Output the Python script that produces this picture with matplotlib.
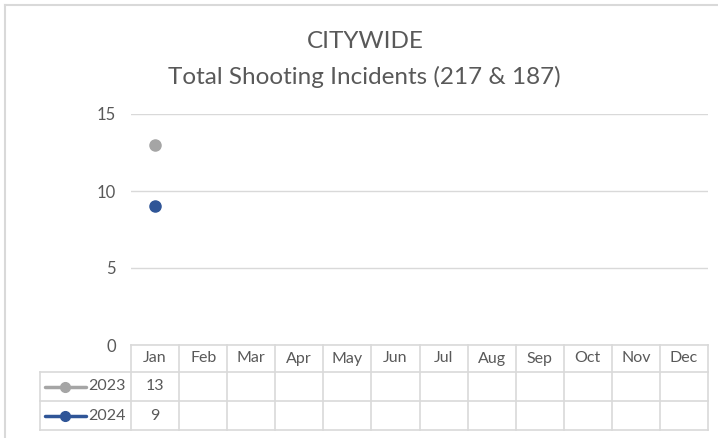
import matplotlib.pyplot as plt
from matplotlib.transforms import blended_transform_factory
from matplotlib.lines import Line2D

plt.rcParams['font.family'] = ['Lato', 'DejaVu Sans']

months = ['Jan', 'Feb', 'Mar', 'Apr', 'May', 'Jun', 'Jul', 'Aug', 'Sep', 'Oct', 'Nov', 'Dec']
years = ['2023', '2024']
vals_2023 = [13]
vals_2024 = [9]
colors = ['#a5a5a5', '#2f5597']
series = [vals_2023, vals_2024]

W, H = 718, 438
fig = plt.figure(figsize=(W / 100, H / 100), dpi=100)
grid_c = '#d9d9d9'
txt_c = '#595959'

# outer chart frame (cut off on right/bottom like the screenshot)
fig.add_artist(Line2D([5 / W, 1.01], [1 - 5 / H, 1 - 5 / H], color=grid_c, lw=1.5))
fig.add_artist(Line2D([5 / W, 5 / W], [1 - 5 / H, -0.01], color=grid_c, lw=1.5))

ax = fig.add_axes([131 / W, (H - 345) / H, (708 - 131) / W, (345 - 114) / H])
ax.set_xlim(-0.5, 11.5)
ax.set_ylim(0, 15)
ax.set_yticks([0, 5, 10, 15])
ax.set_xticks([])
ax.tick_params(axis='y', length=0, pad=11, labelsize=12, labelcolor=txt_c)
for s in ax.spines.values():
    s.set_visible(False)
ax.grid(axis='y', color=grid_c, lw=1)
ax.set_axisbelow(True)

for vals, c in zip(series, colors):
    ax.plot(range(len(vals)), vals, color=c, lw=2.25, marker='o', ms=8, zorder=3)

# two-line title, same size on both lines
fig.text(365 / W, 1 - 41 / H, 'CITYWIDE', ha='center', va='center', fontsize=17.5, color=txt_c)
fig.text(364 / W, 1 - 77 / H, 'Total Shooting Incidents (217 & 187)', ha='center', va='center',
         fontsize=17.5, color=txt_c)

# data table under the axis
tr = blended_transform_factory(ax.transData, ax.transAxes)
ph = 345 - 114
rows_y = [0, -27 / ph, -56 / ph, -85 / ph]
left = -0.5 - 91 / 48.08
kw = dict(color=grid_c, lw=1.2, transform=tr, clip_on=False)
ax.plot([-0.5, 11.5], [rows_y[0]] * 2, **kw)
for y in rows_y[1:]:
    ax.plot([left, 11.5], [y, y], **kw)
for k in range(13):
    ax.plot([k - 0.5, k - 0.5], [rows_y[0], rows_y[3]], **kw)
ax.plot([left, left], [rows_y[1], rows_y[3]], **kw)

for i, m in enumerate(months):
    ax.text(i, (rows_y[0] + rows_y[1]) / 2, m, ha='center', va='center', fontsize=11.5,
            color=txt_c, transform=tr)

for r, (yr, vals, c) in enumerate(zip(years, series, colors)):
    yc = (rows_y[r + 1] + rows_y[r + 2]) / 2
    x0, x1 = left + 5 / 48.08, left + 46 / 48.08
    ax.plot([x0, x1], [yc, yc], color=c, lw=2.5, transform=tr, clip_on=False,
            solid_capstyle='round')
    ax.plot([(x0 + x1) / 2], [yc], color=c, marker='o', ms=7, transform=tr, clip_on=False)
    ax.text(-0.5 - 5 / 48.08, yc, yr, ha='right', va='center', fontsize=11.5, color=txt_c,
            transform=tr)
    for i, v in enumerate(vals):
        ax.text(i, yc, str(v), ha='center', va='center', fontsize=11.5, color=txt_c,
                transform=tr)

fig.savefig('out.png', dpi=100)
